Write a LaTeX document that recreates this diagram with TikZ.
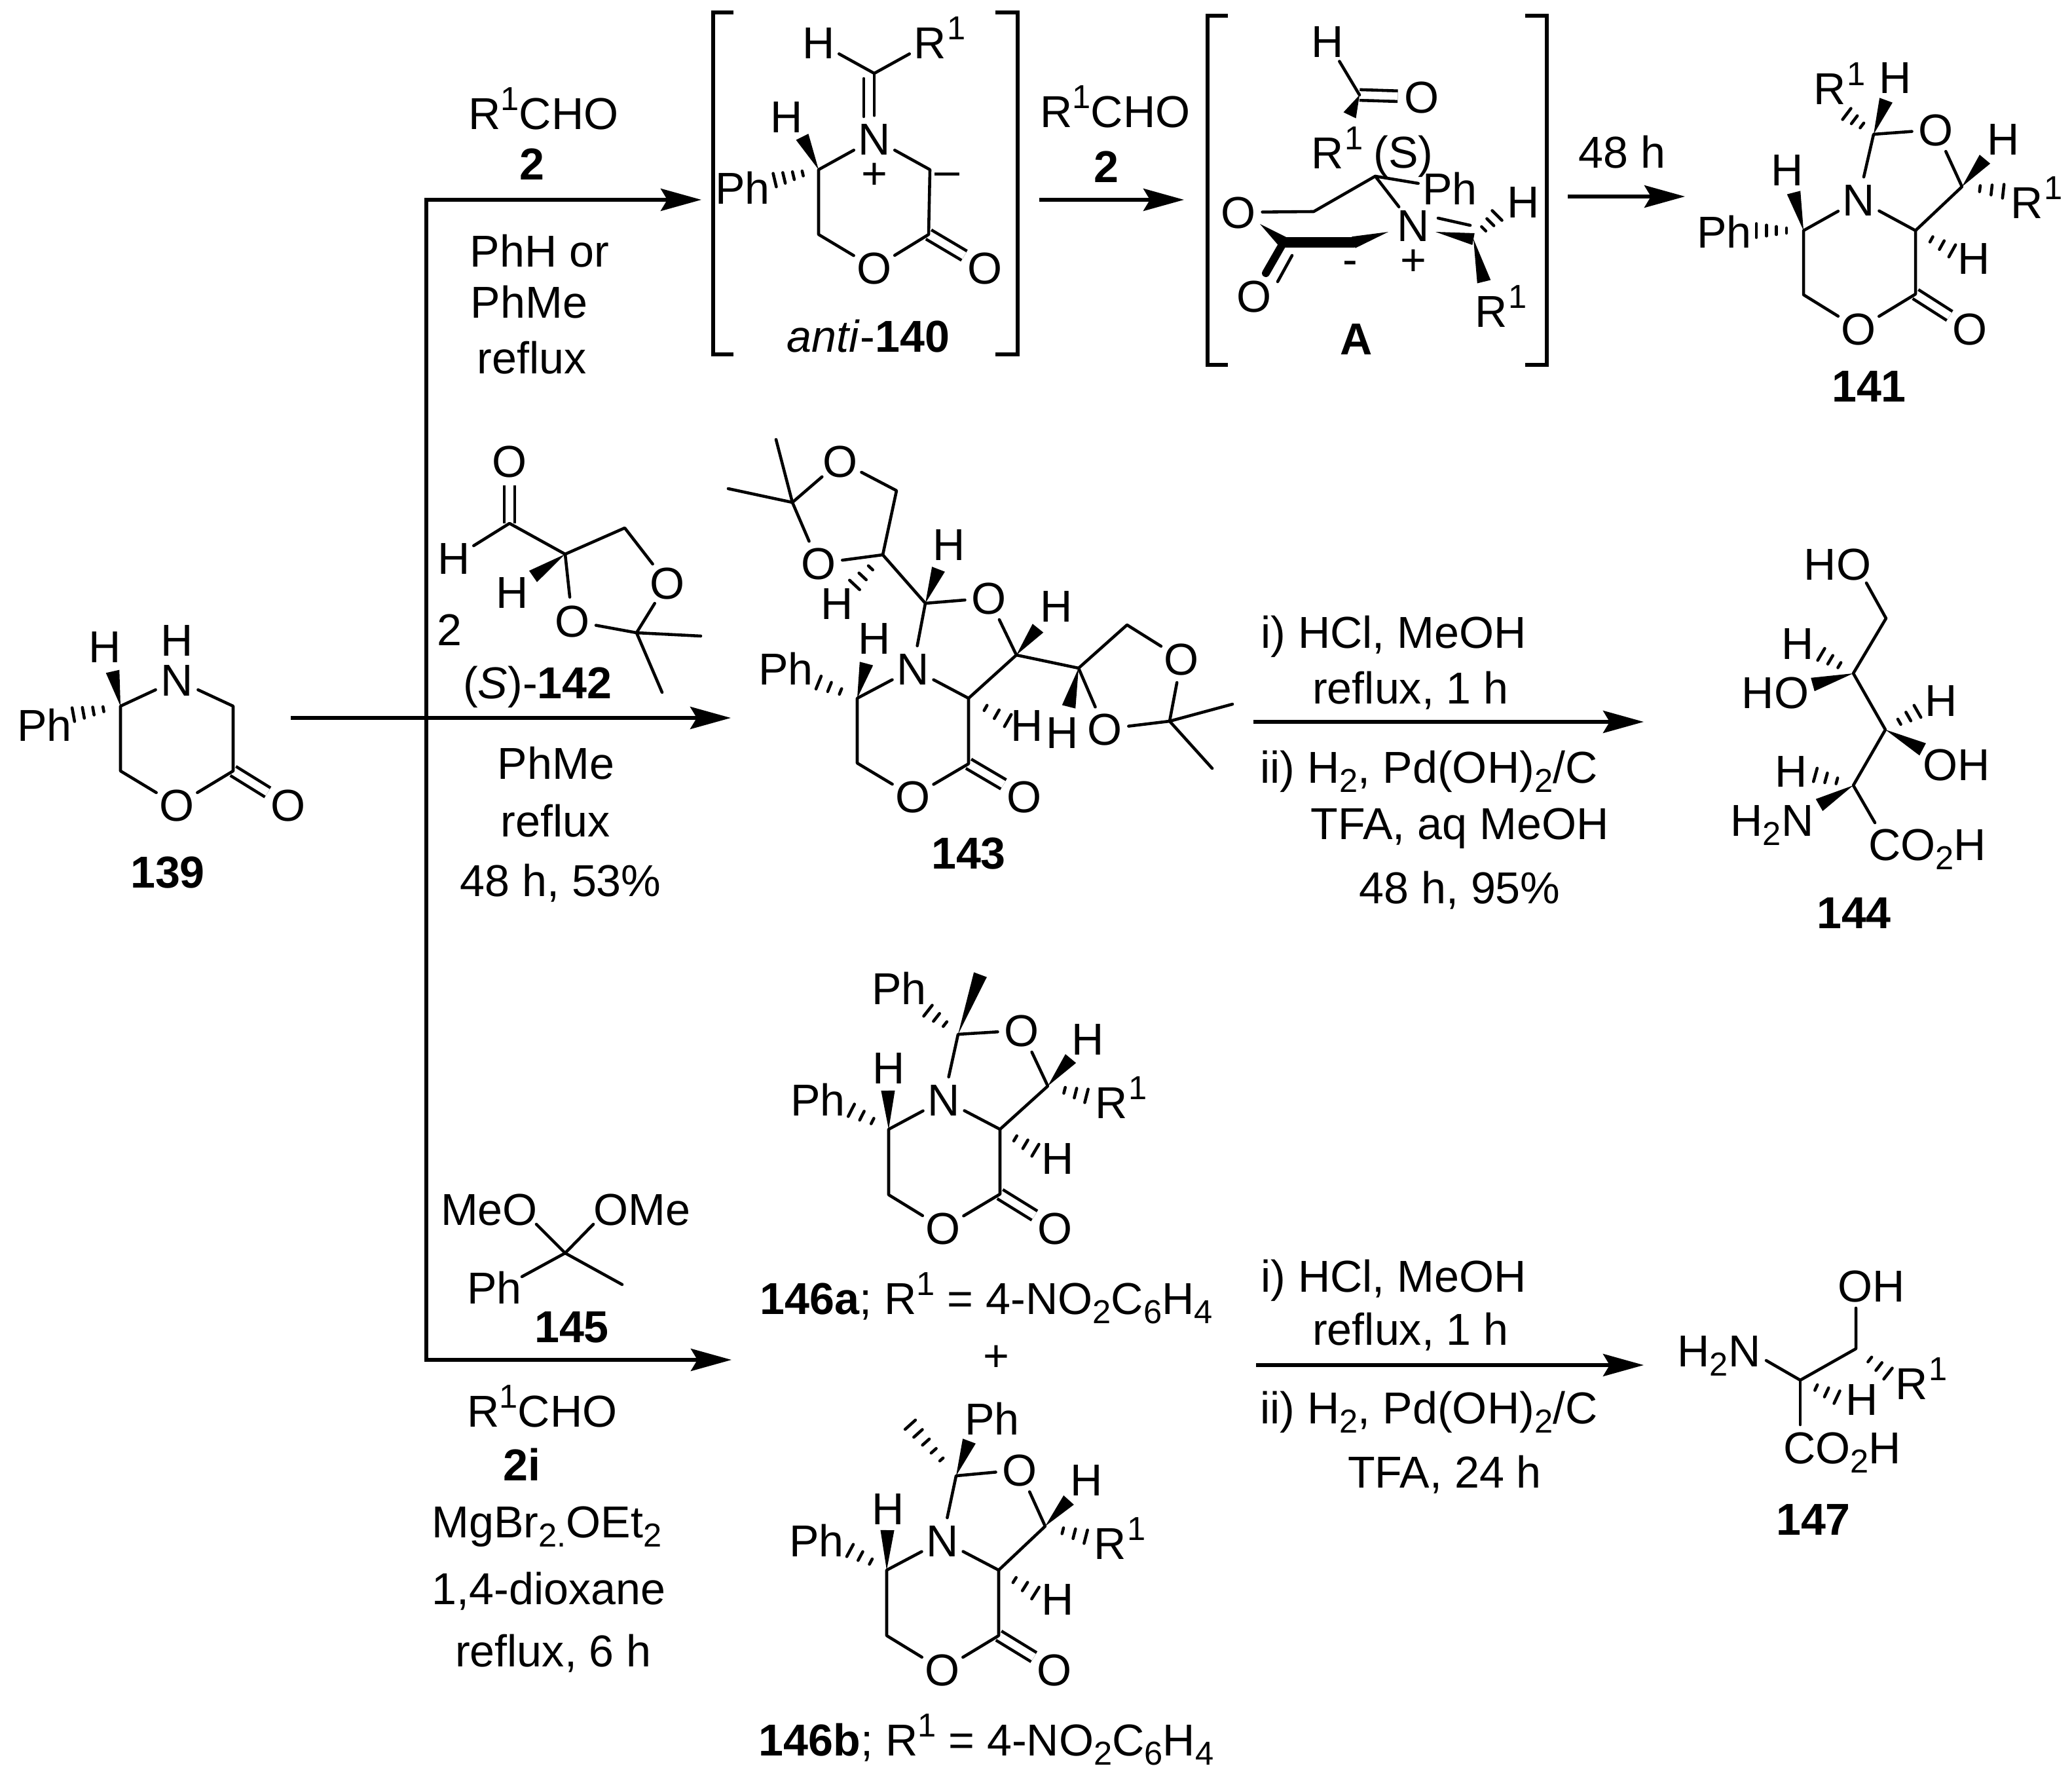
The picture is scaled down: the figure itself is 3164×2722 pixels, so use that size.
\documentclass[tikz,border=0pt]{standalone}
\usepackage{fontspec}
\setmainfont{Liberation Sans}
\usetikzlibrary{calc,arrows.meta}
\newcommand{\sbs}[1]{\raisebox{-.2em}{\fontsize{14.4}{14.4}\selectfont #1}}
\newcommand{\sps}[1]{\raisebox{.42em}{\fontsize{14.4}{14.4}\selectfont #1}}
\newcommand{\Rlab}{R\rlap{\hspace{.03em}\sps{1}}}
\newcommand{\wdg}[3][3pt]{\fill (#2) -- ($(#3)!#1!90:(#2)$) -- ($(#3)!#1!-90:(#2)$) -- cycle;}
\newcommand{\hsh}[3][3]{\foreach \i in {1,...,#1}{\pgfmathsetmacro\t{0.15+0.85*\i/#1}
  \draw[bond] ($(#2)!\t!(#3)!3pt*\t!90:(#2)$) -- ($(#2)!\t!(#3)!3pt*\t!-90:(#2)$);}}
\tikzset{
  bond/.style={line width=1.3pt,line cap=round,line join=round},
  dbl/.style={double,double distance=3.3pt,line width=1.3pt,line cap=butt},
  boldb/.style={line width=4.4pt,line cap=round,line join=round},
  rxn/.style={line width=1.5pt,-{Stealth[length=6.2mm,width=3.4mm,inset=1mm]}},
  brk/.style={line width=1.6pt},
  atom/.style={circle,inner sep=0pt,minimum size=7mm},
  txt/.style={inner sep=0pt}
}
\begin{document}
\begin{tikzpicture}[x=0.01cm,y=-0.01cm,font=\fontsize{19.4}{23}\selectfont,
  every node/.style={text height=13.9pt,text depth=0pt}]
\useasboundingbox (0,0) rectangle (3164,2722);
% arrows
\coordinate (tTop) at (651,305); \coordinate (tBot) at (651,2076);
\coordinate (tStart) at (444,1096); \coordinate (tMid) at (1116,1096);
\coordinate (tEnd1) at (1071,305); \coordinate (tEnd3) at (1117,2076);
\draw[line width=1.5pt,line cap=rect] (tTop) -- (tBot);
\draw[rxn] (tTop) -- (tEnd1);
\draw[rxn] (tStart) -- (tMid);
\draw[rxn] (tBot) -- (tEnd3);
\coordinate (u1) at (1587,305); \coordinate (u2) at (1808,305);
\coordinate (u3) at (2394,300); \coordinate (u4) at (2573,300);
\coordinate (u5) at (1914,1102); \coordinate (u6) at (2510,1102);
\coordinate (u7) at (1918,2084); \coordinate (u8) at (2510,2084);
\draw[rxn] (u1) -- (u2);
\draw[rxn] (u3) -- (u4);
\draw[rxn] (u5) -- (u6);
\draw[rxn] (u7) -- (u8);
% top conditions
\node[txt] (r1) at (830,173) {R\sps{1}CHO};
\node[txt] (r2) at (812,250) {\textbf{2}};
\node[txt] (r3) at (824,383) {PhH or};
\node[txt] (r4) at (808,461) {PhMe};
\node[txt] (r5) at (812,546) {reflux};
\node[txt] (r6) at (1703,170) {R\sps{1}CHO};
\node[txt] (r7) at (1689,254) {\textbf{2}};
\node[txt] (r8) at (2477,232) {48 h};
% middle conditions
\node[txt] (r9) at (686,961) {2};
\node[txt] (r10) at (821,1042) {(\textit{S})-\textbf{142}};
\node[txt] (r11) at (849,1165) {PhMe};
\node[txt] (r12) at (848,1253) {reflux};
\node[txt] (r13) at (856,1344) {48 h, 53\%};
\node[txt] (r14) at (2128,965) {i) HCl, MeOH};
\node[txt] (r15) at (2154,1050) {reflux, 1 h};
\node[txt] (r16) at (2182,1171) {ii) H\sbs{2}, Pd(OH)\sbs{2}/C};
\node[txt] (r17) at (2229,1257) {TFA, aq MeOH};
\node[txt] (r18) at (2229,1355) {48 h, 95\%};
% lower conditions
\node[txt] (r19) at (873,2025) {\textbf{145}};
\node[txt] (r20) at (828,2154) {R\sps{1}CHO};
\node[txt] (r21) at (797,2236) {\textbf{2i}};
\node[txt] (r22) at (835,2323) {MgBr\sbs{2.}OEt\sbs{2}};
\node[txt] (r23) at (838,2425) {1,4-dioxane};
\node[txt] (r24) at (845,2520) {reflux, 6 h};
\node[txt] (r25) at (2128,1948) {i) HCl, MeOH};
\node[txt] (r26) at (2154,2029) {reflux, 1 h};
\node[txt] (r27) at (2182,2149) {ii) H\sbs{2}, Pd(OH)\sbs{2}/C};
\node[txt] (r28) at (2206,2247) {TFA, 24 h};
% 139
\node[atom] (sN) at (270,1038) {N};
\node[txt] (sNH) at (270,977) {H};
\node[atom] (sO) at (270,1229) {O};
\node[atom] (sOx) at (440,1229) {O};
\node[txt] (sH) at (160,987) {H};
\node[txt] (sPh) at (68,1107) {Ph};
\node[txt] (s139) at (256,1331) {\textbf{139}};
\coordinate (sC5) at (184,1078); \coordinate (sC6) at (184,1177);
\coordinate (sC2) at (356,1177); \coordinate (sC3) at (356,1078);
\coordinate (sW) at (172,1025); \coordinate (sP) at (112,1091);
\draw[dbl] (sC2) -- (sOx);
\draw[bond] (sN) -- (sC5) -- (sC6) -- (sO) -- (sC2) -- (sC3) -- (sN);
\wdg{sC5}{sW} \hsh[4]{sC5}{sP}
% anti-140
\draw[brk] (1120,19) -| (1089,541) -- (1120,541);
\draw[brk] (1520,19) -| (1554,541) -- (1520,541);
\node[atom] (aH1) at (1250,65) {H};
\node[atom] (aR) at (1420,65) {\Rlab};
\node[atom] (aN) at (1335,212) {N};
\node[txt] (aH2) at (1201,178) {H};
\node[txt] (aPh) at (1134,287) {Ph};
\node[txt] (aMin) at (1446,259) {--};
\node[txt] (aPl) at (1335,264) {+};
\node[atom] (aO) at (1335,409) {O};
\node[atom] (aOx) at (1504,409) {O};
\node[txt] (a140) at (1326,513) {\textit{anti}-\textbf{140}};
\coordinate (aCm) at (1335,112); \coordinate (aD1) at (1319,120); \coordinate (aD2) at (1319,178);
\coordinate (aC5) at (1250,259); \coordinate (aC6) at (1250,358);
\coordinate (aC2) at (1418,358); \coordinate (aC3) at (1420,259);
\coordinate (aW) at (1225,209); \coordinate (aP) at (1183,275);
\draw[dbl] (aC2) -- (aOx);
\draw[bond] (aH1) -- (aCm) -- (aR);
\draw[bond] (aCm) -- (aN);
\draw[bond] (aD1) -- (aD2);
\draw[bond] (aN) -- (aC5) -- (aC6) -- (aO) -- (aC2) -- (aC3) -- (aN);
\wdg{aC5}{aW} \hsh[4]{aC5}{aP}
% A
\draw[brk] (1875,24) -| (1844,557) -- (1875,557);
\draw[brk] (2329,24) -| (2362,557) -- (2329,557);
\node[atom] (bH) at (2027,63) {H};
\node[atom] (bO1) at (2171,148) {O};
\node[txt] (bR) at (2027,233) {\Rlab};
\node[txt] (bS) at (2143,232) {(S)};
\node[atom] (bPh) at (2214,288) {Ph};
\node[atom] (bN) at (2158,344) {N};
\node[atom] (bO2) at (1891,324) {O};
\node[atom] (bO3) at (1915,452) {O};
\node[txt] (bHb) at (2326,308) {H};
\node[txt] (bR2) at (2277,475) {\Rlab};
\node[txt] (bMin) at (2062,395) {-};
\node[txt] (bPl) at (2158,396) {+};
\node[txt] (bA) at (2071,517) {\textbf{A}};
\coordinate (bC1) at (2076,145); \coordinate (bW) at (2061,176);
\coordinate (bC2) at (2100,269); \coordinate (bC3) at (2006,323);
\coordinate (bC4) at (1960,370); \coordinate (bC5) at (2067,370);
\coordinate (bC6) at (2250,365); \coordinate (bT1) at (1924,342);
\coordinate (bT2) at (2120,354); \coordinate (bT3) at (1933,417);
\coordinate (bT4) at (2192,354); \coordinate (bD1) at (1973,390);
\coordinate (bD2) at (1951,430); \coordinate (bD3) at (2196,333);
\coordinate (bD4) at (2245,344); \coordinate (bP) at (2286,329);
\coordinate (bW2) at (2266,430);
\draw[dbl] (bC1) -- (bO1);
\draw[bond] (bH) -- (bC1);
\wdg{bC1}{bW}
\draw[bond] (bPh) -- (bC2) -- (bN);
\draw[bond] (bC2) -- (bC3) -- (bO2);
\draw[boldb] (bC4) -- (bC5);
\draw[boldb,line width=3.4pt] (bC4) -- (bT3);
\draw[bond] (bD1) -- (bD2);
\draw[bond] (bD3) -- (bD4);
\wdg[2.6pt]{bT1}{bC4} \wdg[2.6pt]{bT2}{bC5} \wdg[2.6pt]{bT4}{bC6}
\wdg{bC6}{bW2} \hsh{bC6}{bP}
% 141
\node[atom] (cH1) at (2894,118) {H};
\node[atom] (cR) at (2794,135) {\Rlab};
\node[atom] (cO) at (2956,198) {O};
\node[atom] (cN) at (2838,305) {N};
\node[atom] (cH2) at (3059,212) {H};
\node[atom] (cR2) at (3095,309) {\Rlab};
\node[atom] (cH3) at (3014,394) {H};
\node[atom] (cO2) at (2838,502) {O};
\node[atom] (cOx) at (3008,502) {O};
\node[txt] (cH4) at (2729,259) {H};
\node[txt] (cPh) at (2633,354) {Ph};
\node[txt] (c141) at (2854,589) {\textbf{141}};
\coordinate (cC1) at (2861,205); \coordinate (cC2) at (2996,285);
\coordinate (cC3) at (2925,352); \coordinate (cC4) at (2925,449);
\coordinate (cC5) at (2754,450); \coordinate (cC6) at (2754,352);
\draw[dbl] (cC4) -- (cOx);
\draw[bond] (cN) -- (cC1) -- (cO) -- (cC2) -- (cC3) -- (cN);
\draw[bond] (cC3) -- (cC4) -- (cO2) -- (cC5) -- (cC6) -- (cN);
\coordinate (cW1) at (2880,153); \coordinate (cW2) at (3031,243); \coordinate (cW3) at (2739,294);
\coordinate (cP1) at (2820,174); \coordinate (cP2) at (3059,292);
\coordinate (cP3) at (2981,383); \coordinate (cP4) at (2682,352);
\wdg{cC1}{cW1} \wdg{cC2}{cW2} \wdg{cC6}{cW3}
\hsh{cC1}{cP1} \hsh{cC2}{cP2} \hsh{cC3}{cP3} \hsh[4]{cC6}{cP4}
% 142
\node[atom] (dO) at (778,704) {O};
\node[atom] (dH) at (693,852) {H};
\node[txt] (dH2) at (782,904) {H};
\node[atom] (dO1) at (1019,890) {O};
\node[atom] (dO2) at (874,948) {O};
\coordinate (dC1) at (778,799); \coordinate (dC2) at (863,846);
\coordinate (dC3) at (954,806); \coordinate (dC4) at (972,966);
\coordinate (dM1) at (1070,971); \coordinate (dM2) at (1011,1057);
\coordinate (dW) at (814,880);
\draw[dbl] (dC1) -- (dO);
\draw[bond] (dH) -- (dC1) -- (dC2) -- (dC3) -- (dO1) -- (dC4) -- (dO2) -- (dC2);
\draw[bond] (dM1) -- (dC4) -- (dM2);
\wdg{dC2}{dW}
% 143
\node[atom] (mO1) at (1283,704) {O};
\node[atom] (mO2) at (1250,860) {O};
\node[txt] (mH1) at (1278,921) {H};
\node[txt] (mH2) at (1449,831) {H};
\node[atom] (mO3) at (1510,913) {O};
\node[atom] (mN) at (1394,1021) {N};
\node[txt] (mH3) at (1613,925) {H};
\node[txt] (mH4) at (1622,1118) {H};
\node[atom] (mO4) at (1804,1006) {O};
\node[atom] (mO5) at (1687,1113) {O};
\node[txt] (mH5) at (1568,1107) {H};
\node[atom] (mO6) at (1394,1216) {O};
\node[atom] (mOx) at (1564,1216) {O};
\node[txt] (mH6) at (1335,974) {H};
\node[txt] (mPh) at (1200,1021) {Ph};
\node[txt] (m143) at (1479,1302) {\textbf{143}};
\coordinate (mM1) at (1185,671); \coordinate (mM2) at (1112,746);
\coordinate (mC1) at (1210,767); \coordinate (mC2) at (1369,749);
\coordinate (mC3) at (1348,847); \coordinate (mC4) at (1413,921);
\coordinate (mC5) at (1552,1000); \coordinate (mC6) at (1647,1020);
\coordinate (mC7) at (1721,954); \coordinate (mC8) at (1786,1101);
\coordinate (mM3) at (1882,1075); \coordinate (mM4) at (1851,1173);
\coordinate (mC9) at (1479,1066); \coordinate (mC10) at (1479,1166);
\coordinate (mC11) at (1309,1165); \coordinate (mC12) at (1309,1066);
\draw[dbl] (mC10) -- (mOx);
\draw[bond] (mM1) -- (mC1) -- (mM2);
\draw[bond] (mC1) -- (mO1) -- (mC2) -- (mC3) -- (mO2) -- (mC1);
\draw[bond] (mC3) -- (mC4) -- (mO3) -- (mC5) -- (mC9) -- (mN) -- (mC4);
\draw[bond] (mC5) -- (mC6) -- (mC7) -- (mO4) -- (mC8) -- (mO5) -- (mC6);
\draw[bond] (mM3) -- (mC8) -- (mM4);
\draw[bond] (mC9) -- (mC10) -- (mO6) -- (mC11) -- (mC12) -- (mN);
\coordinate (mW1) at (1433,869); \coordinate (mW2) at (1585,959);
\coordinate (mW3) at (1632,1079); \coordinate (mW4) at (1323,1013);
\coordinate (mP1) at (1305,893); \coordinate (mP2) at (1539,1100);
\coordinate (mP3) at (1250,1042);
\wdg{mC4}{mW1} \wdg{mC5}{mW2} \wdg{mC6}{mW3} \wdg{mC12}{mW4}
\hsh{mC3}{mP1} \hsh{mC9}{mP2} \hsh{mC12}{mP3}
% 144
\node[txt] (eHO) at (2806,861) {HO};
\node[txt] (eH1) at (2745,982) {H};
\node[txt] (eHO2) at (2711,1057) {HO};
\node[txt] (eH2) at (2964,1069) {H};
\node[txt] (eOH) at (2988,1167) {OH};
\node[txt] (eH3) at (2735,1177) {H};
\node[txt] (eN) at (2706,1252) {H\sbs{2}N};
\node[txt] (eCO) at (2943,1289) {CO\sbs{2}H};
\node[txt] (e144) at (2831,1393) {\textbf{144}};
\coordinate (eE1) at (2850,890); \coordinate (eE2) at (2863,1256);
\coordinate (eC1) at (2880,944); \coordinate (eC2) at (2830,1028);
\coordinate (eC3) at (2879,1114); \coordinate (eC4) at (2830,1199);
\draw[bond] (eE1) -- (eC1) -- (eC2) -- (eC3) -- (eC4) -- (eE2);
\coordinate (eW1) at (2768,1045); \coordinate (eW2) at (2936,1144); \coordinate (eW3) at (2778,1229);
\coordinate (eP1) at (2781,999); \coordinate (eP2) at (2928,1086); \coordinate (eP3) at (2772,1183);
\wdg{eC2}{eW1} \wdg{eC3}{eW2} \wdg{eC4}{eW3}
\hsh{eC2}{eP1} \hsh{eC3}{eP2} \hsh{eC4}{eP3}
% 145
\node[txt] (fMeO) at (747,1846) {MeO};
\node[txt] (fOMe) at (980,1846) {OMe};
\node[txt] (fPh) at (755,1966) {Ph};
\coordinate (fC) at (863,1913); \coordinate (fE1) at (819,1869);
\coordinate (fE2) at (906,1869); \coordinate (fE3) at (797,1949);
\coordinate (fE4) at (950,1961);
\draw[bond] (fE1) -- (fC) -- (fE4);
\draw[bond] (fE2) -- (fC) -- (fE3);
% 146a
\node[txt] (gPh1) at (1373,1509) {Ph};
\node[atom] (gO) at (1560,1573) {O};
\node[atom] (gN) at (1441,1679) {N};
\node[txt] (gH1) at (1661,1586) {H};
\node[txt] (gR) at (1697,1683) {\Rlab};
\node[txt] (gH2) at (1615,1768) {H};
\node[atom] (gO2) at (1440,1875) {O};
\node[atom] (gOx) at (1611,1875) {O};
\node[txt] (gH3) at (1357,1630) {H};
\node[txt] (gPh2) at (1249,1679) {Ph};
\node[txt] (g146) at (1506,1982) {\textbf{146a}; R\sps{1} = 4-NO\sbs{2}C\sbs{6}H\sbs{4}};
\node[txt] (gPl) at (1521,2069) {+};
\coordinate (gC1) at (1463,1579); \coordinate (gC2) at (1600,1658);
\coordinate (gC3) at (1527,1724); \coordinate (gC4) at (1527,1823);
\coordinate (gC5) at (1357,1824); \coordinate (gC6) at (1357,1724);
\draw[dbl] (gC4) -- (gOx);
\draw[bond] (gN) -- (gC1) -- (gO) -- (gC2) -- (gC3) -- (gN);
\draw[bond] (gC3) -- (gC4) -- (gO2) -- (gC5) -- (gC6) -- (gN);
\coordinate (gW1) at (1497,1488); \coordinate (gW2) at (1635,1616); \coordinate (gW3) at (1356,1665);
\coordinate (gP1) at (1417,1543); \coordinate (gP2) at (1659,1673);
\coordinate (gP3) at (1581,1756); \coordinate (gP4) at (1300,1695);
\wdg{gC1}{gW1} \wdg{gC2}{gW2} \wdg{gC6}{gW3}
\hsh{gC1}{gP1} \hsh{gC2}{gP2} \hsh{gC3}{gP3} \hsh{gC6}{gP4}
% 146b
\node[txt] (hPh1) at (1515,2166) {Ph};
\node[atom] (hO) at (1557,2244) {O};
\node[atom] (hN) at (1439,2352) {N};
\node[txt] (hH1) at (1659,2259) {H};
\node[txt] (hR) at (1695,2356) {\Rlab};
\node[txt] (hH2) at (1615,2441) {H};
\node[atom] (hO2) at (1439,2549) {O};
\node[atom] (hOx) at (1610,2549) {O};
\node[txt] (hH3) at (1356,2303) {H};
\node[txt] (hPh2) at (1247,2352) {Ph};
\node[txt] (h146) at (1506,2656) {\textbf{146b}; R\sps{1} = 4-NO\sbs{2}C\sbs{6}H\sbs{4}};
\coordinate (hC1) at (1460,2253); \coordinate (hC2) at (1596,2330);
\coordinate (hC3) at (1525,2397); \coordinate (hC4) at (1525,2497);
\coordinate (hC5) at (1354,2497); \coordinate (hC6) at (1354,2397);
\draw[dbl] (hC4) -- (hOx);
\draw[bond] (hN) -- (hC1) -- (hO) -- (hC2) -- (hC3) -- (hN);
\draw[bond] (hC3) -- (hC4) -- (hO2) -- (hC5) -- (hC6) -- (hN);
\coordinate (hW1) at (1480,2200); \coordinate (hW2) at (1632,2290); \coordinate (hW3) at (1355,2336);
\coordinate (hP1) at (1390,2175); \coordinate (hP2) at (1658,2346);
\coordinate (hP3) at (1581,2432); \coordinate (hP4) at (1298,2367);
\wdg{hC1}{hW1} \wdg{hC2}{hW2} \wdg{hC6}{hW3}
\hsh[5]{hC1}{hP1} \hsh{hC2}{hP2} \hsh{hC3}{hP3} \hsh{hC6}{hP4}
% 147
\node[txt] (kOH) at (2858,1963) {OH};
\node[txt] (kN) at (2625,2062) {H\sbs{2}N};
\node[txt] (kR) at (2919,2112) {\Rlab};
\node[txt] (kH) at (2843,2136) {H};
\node[txt] (kCO) at (2813,2210) {CO\sbs{2}H};
\node[txt] (k147) at (2769,2319) {\textbf{147}};
\coordinate (kE1) at (2834,1997); \coordinate (kC1) at (2834,2059);
\coordinate (kC2) at (2749,2107); \coordinate (kE2) at (2697,2077);
\coordinate (kE3) at (2749,2175);
\draw[bond] (kE1) -- (kC1) -- (kC2) -- (kE2);
\draw[bond] (kC2) -- (kE3);
\coordinate (kP1) at (2883,2097); \coordinate (kP2) at (2805,2133);
\hsh{kC1}{kP1} \hsh{kC2}{kP2}
\end{tikzpicture}
\end{document}
